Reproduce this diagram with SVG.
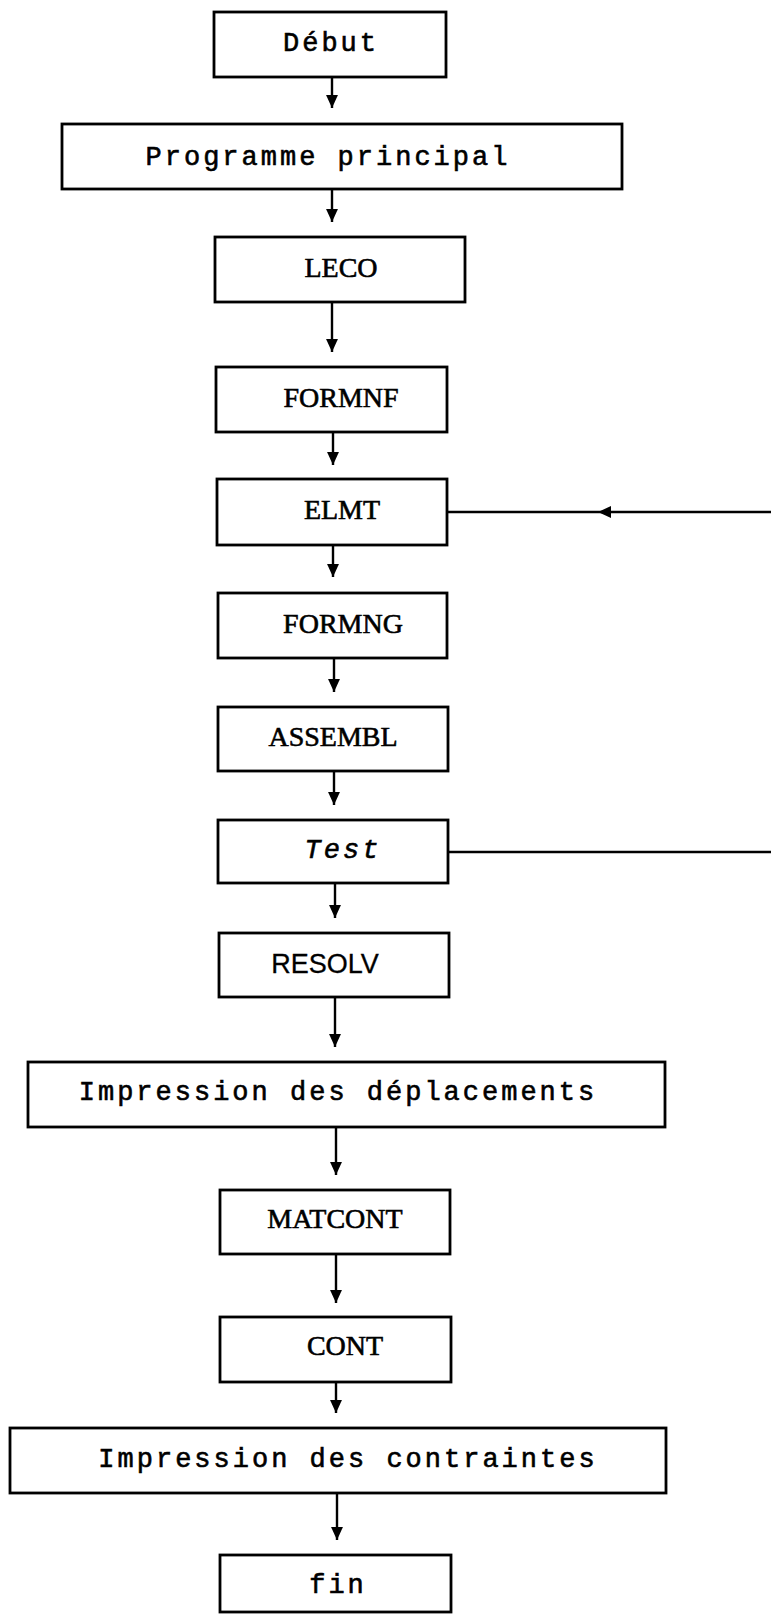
<svg xmlns="http://www.w3.org/2000/svg" width="771" height="1615" viewBox="0 0 771 1615">
<defs>
<marker id="ah" viewBox="0 0 12 12" refX="12" refY="6" markerWidth="13" markerHeight="13" markerUnits="userSpaceOnUse" orient="auto">
<path d="M0,0.5 L12,6 L0,11.5 Z" fill="#000"/>
</marker>
</defs>
<style>
.box{fill:#fff;stroke:#000;stroke-width:2.8}
.mono{font-family:"Liberation Mono","DejaVu Sans Mono",monospace;font-size:27px;letter-spacing:3px;fill:#000;stroke:#000;stroke-width:0.6;text-anchor:middle}
.serif{font-family:"Liberation Serif","DejaVu Serif",serif;font-size:28px;fill:#000;stroke:#000;stroke-width:0.6;text-anchor:middle}
.sans{font-family:"Liberation Sans","DejaVu Sans",sans-serif;font-size:27px;fill:#000;stroke:#000;stroke-width:0.3;text-anchor:middle}
.c{fill:none;stroke:#000;stroke-width:2.4}
.a{marker-end:url(#ah)}
</style>
<rect width="771" height="1615" fill="#fff"/>
<g id="connectors">
<line class="c a" x1="332" y1="77" x2="332" y2="108"/>
<line class="c a" x1="332" y1="189" x2="332" y2="222"/>
<line class="c a" x1="332" y1="302" x2="332" y2="352"/>
<line class="c a" x1="333" y1="432" x2="333" y2="465"/>
<line class="c a" x1="333" y1="545" x2="333" y2="577"/>
<line class="c a" x1="334" y1="658" x2="334" y2="692"/>
<line class="c a" x1="334" y1="771" x2="334" y2="805"/>
<line class="c a" x1="335" y1="883" x2="335" y2="918"/>
<line class="c a" x1="335" y1="997" x2="335" y2="1047"/>
<line class="c a" x1="336" y1="1127" x2="336" y2="1175"/>
<line class="c a" x1="336" y1="1254" x2="336" y2="1303"/>
<line class="c a" x1="336" y1="1382" x2="336" y2="1413"/>
<line class="c a" x1="337" y1="1493" x2="337" y2="1540"/>
<line class="c a" x1="771" y1="512" x2="598" y2="512"/>
<line class="c" x1="598" y1="512" x2="447" y2="512"/>
<line class="c" x1="448" y1="852" x2="771" y2="852"/>
</g>
<g id="debut"><rect class="box" x="214" y="12" width="232" height="65"/><text class="mono" x="331" y="51">Début</text></g>
<g id="programme"><rect class="box" x="62" y="124" width="560" height="65"/><text class="mono" x="328" y="165">Programme principal</text></g>
<g id="leco"><rect class="box" x="215" y="237" width="250" height="65"/><text class="serif" x="341" y="277">LECO</text></g>
<g id="formnf"><rect class="box" x="216" y="367" width="231" height="65"/><text class="serif" x="341" y="407">FORMNF</text></g>
<g id="elmt"><rect class="box" x="217" y="479" width="230" height="66"/><text class="serif" x="342" y="519">ELMT</text></g>
<g id="formng"><rect class="box" x="218" y="593" width="229" height="65"/><text class="serif" x="343" y="633">FORMNG</text></g>
<g id="assembl"><rect class="box" x="218" y="707" width="230" height="64"/><text class="serif" x="333" y="746">ASSEMBL</text></g>
<g id="test"><rect class="box" x="218" y="820" width="230" height="63"/><text class="mono" x="343" y="858" font-style="italic">Test</text></g>
<g id="resolv"><rect class="box" x="219" y="933" width="230" height="64"/><text class="sans" x="325" y="973">RESOLV</text></g>
<g id="impression-deplacements"><rect class="box" x="28" y="1062" width="637" height="65"/><text class="mono" x="338" y="1100">Impression des déplacements</text></g>
<g id="matcont"><rect class="box" x="220" y="1190" width="230" height="64"/><text class="serif" x="335" y="1228" font-size="26">MATCONT</text></g>
<g id="cont"><rect class="box" x="220" y="1317" width="231" height="65"/><text class="serif" x="345" y="1355" font-size="26">CONT</text></g>
<g id="impression-contraintes"><rect class="box" x="10" y="1428" width="656" height="65"/><text class="mono" x="348" y="1467">Impression des contraintes</text></g>
<g id="fin"><rect class="box" x="220" y="1555" width="231" height="57"/><text class="mono" x="338" y="1593">fin</text></g>
</svg>
